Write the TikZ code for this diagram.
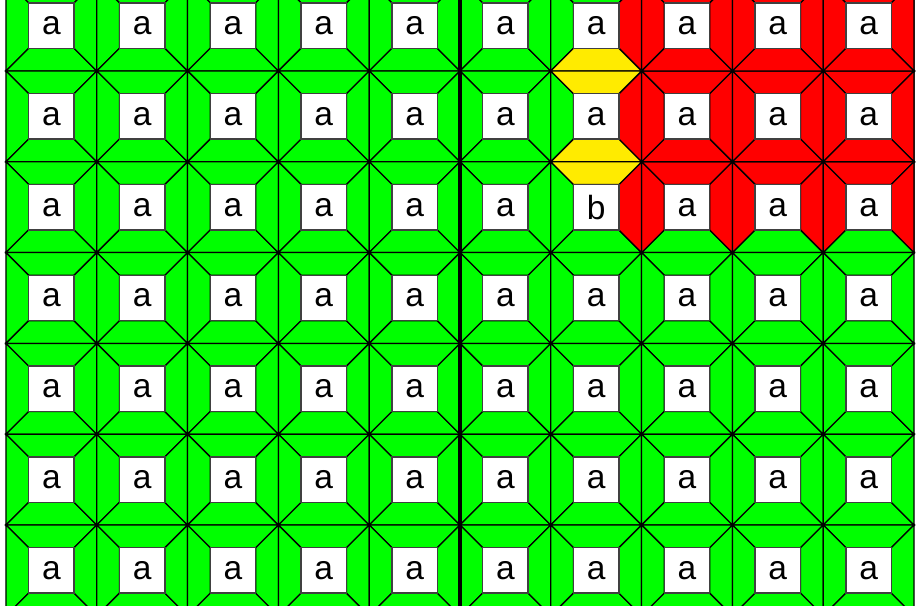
\documentclass[tikz,border=0pt]{standalone}
\usepackage{fontspec}
\setmainfont{Liberation Sans}
\usepackage{xcolor}
\usepackage{tikz}

\definecolor{tilegreen}{RGB}{0,255,0}
\definecolor{tilered}{RGB}{255,0,0}
\definecolor{tileyellow}{RGB}{255,235,0}
\tikzset{
    tilepiece/.style={fill=#1, draw=black, line width=0.4pt},
    labelbox/.style={rectangle, draw=black!75, fill=white, minimum size=0.5cm, inner sep=0pt, line width=0.4pt, font=\fontsize{10.5}{12}\selectfont},
    divider/.style={draw=black, line width=1pt}
}
% one trapezoid of a cell: col, row, angle (0 top, 90 left, 180 bottom, 270 right), colour
\newcommand{\piece}[4]{%
  \filldraw[tilepiece=#4, shift={(#1+0.5,-#2-0.5)}, rotate=#3]
    (-0.5,0.5) -- (0.5,0.5) -- (0.25,0.25) -- (-0.25,0.25) -- cycle;}

\begin{document}
\begin{tikzpicture}

\useasboundingbox (-0.066,-6.892) rectangle (10.033,-0.218);
\clip (-0.066,-6.892) rectangle (10.033,-0.218);

% green tiling
\foreach \c in {0,...,9}
  \foreach \r in {0,...,6}
    \foreach \a in {0,90,180,270}
      \piece{\c}{\r}{\a}{tilegreen};

% red block
\foreach \c in {7,8,9}
  \foreach \r in {0,1,2}
    \foreach \a in {0,90,270}
      \piece{\c}{\r}{\a}{tilered};
\foreach \c in {7,8,9}
  \foreach \r in {0,1}
    \piece{\c}{\r}{180}{tilered};
\foreach \r in {0,1,2}
  \piece{6}{\r}{270}{tilered};

% yellow path
\piece{6}{0}{180}{tileyellow};
\piece{6}{1}{0}{tileyellow};
\piece{6}{1}{180}{tileyellow};
\piece{6}{2}{0}{tileyellow};

% labels
\foreach \c in {0,...,9}
  \foreach \r in {0,...,6} {
    \def\lab{a}
    \ifnum\c=6 \ifnum\r=2 \def\lab{b}\fi\fi
    \node[labelbox] (t-\c-\r) at (\c+0.5,-\r-0.5) {\lab};
  }

\coordinate (divtop) at (5,0);
\coordinate (divbot) at (5,-7);
\draw[divider] (divtop) -- (divbot);

\end{tikzpicture}
\end{document}
